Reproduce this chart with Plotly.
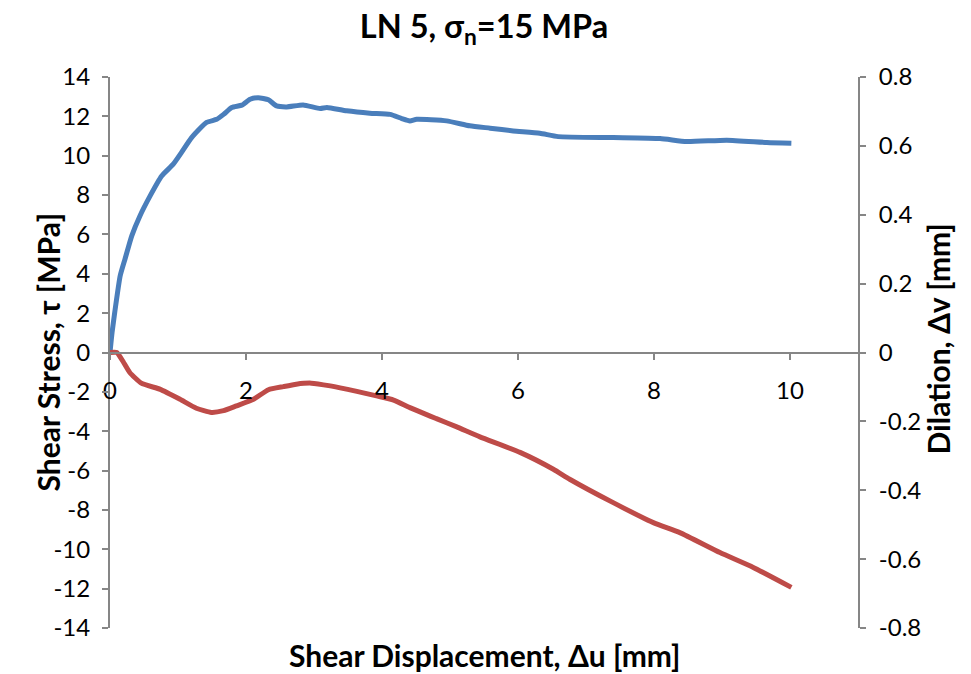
import plotly.graph_objects as go

# Shear stress curve (left axis)
disp_tau = [0.0, 0.03, 0.07, 0.15, 0.22, 0.32, 0.44, 0.59, 0.76, 0.93, 1.05, 1.2, 1.42, 1.57,
            1.67, 1.79, 1.94, 2.06, 2.18, 2.33, 2.45, 2.6, 2.84, 3.09, 3.19, 3.48, 3.82, 4.12,
            4.29, 4.41, 4.51, 4.95, 5.29, 5.59, 5.93, 6.32, 6.59, 7.4, 8.09, 8.48, 9.07, 9.66, 10.02]
tau = [0.0, 1.0, 2.05, 3.9, 4.74, 5.93, 6.94, 7.96, 8.97, 9.57, 10.16, 10.92, 11.69, 11.85,
       12.1, 12.45, 12.57, 12.87, 12.95, 12.84, 12.53, 12.48, 12.58, 12.4, 12.45, 12.28, 12.16, 12.1,
       11.89, 11.77, 11.85, 11.77, 11.52, 11.4, 11.26, 11.14, 10.97, 10.92, 10.87, 10.72, 10.79, 10.67, 10.63]

# Dilation curve (right axis)
disp_dv = [0.0, 0.1, 0.2, 0.29, 0.46, 0.74, 1.03, 1.27, 1.49, 1.67, 1.86, 2.11, 2.33, 2.55, 2.74,
           2.96, 3.24, 3.63, 3.92, 4.17, 4.41, 4.8, 5.1, 5.44, 6.03, 6.52, 6.76, 7.4, 7.99, 8.38,
           8.97, 9.46, 10.02]
dv = [0.0, 0.0, -0.029, -0.058, -0.089, -0.107, -0.136, -0.162, -0.174, -0.169, -0.155, -0.136,
      -0.108, -0.099, -0.092, -0.089, -0.097, -0.113, -0.126, -0.138, -0.16, -0.192, -0.216,
      -0.245, -0.29, -0.339, -0.368, -0.436, -0.494, -0.523, -0.581, -0.624, -0.682]

x_ticks = [0, 2, 4, 6, 8, 10]
left_ticks = list(range(-14, 15, 2))
left_labels = [str(v) for v in left_ticks]
right_ticks = [-0.8, -0.6, -0.4, -0.2, 0, 0.2, 0.4, 0.6, 0.8]
right_labels = ["-0.8", "-0.6", "-0.4", "-0.2", "0", "0.2", "0.4", "0.6", "0.8"]

FONT = "Lato"
AX = "#868686"

fig = go.Figure()
fig.add_trace(go.Scatter(x=disp_tau, y=tau, mode="lines", yaxis="y",
                         line=dict(color="#4A7EBB", width=5, shape="spline", smoothing=0.5),
                         showlegend=False))
fig.add_trace(go.Scatter(x=disp_dv, y=dv, mode="lines", yaxis="y2",
                         line=dict(color="#BE4B48", width=5, shape="spline", smoothing=0.5),
                         showlegend=False))

fig.update_layout(
    width=971, height=674,
    margin=dict(l=110, r=113, t=77, b=46),
    paper_bgcolor="white", plot_bgcolor="white",
    font=dict(family=FONT, size=22, color="black"),
    xaxis=dict(range=[0, 11], tickvals=x_ticks, showgrid=False, zeroline=False,
               showline=True, linecolor=AX, linewidth=2,
               ticks="outside", ticklen=6, tickwidth=2, tickcolor=AX,
               anchor="free", position=0.5, ticklabelstandoff=11,
               tickfont=dict(size=24)),
    yaxis=dict(range=[-14, 14], tickvals=left_ticks, ticktext=left_labels,
               showgrid=False, zeroline=False,
               showline=True, linecolor=AX, linewidth=2,
               ticks="outside", ticklen=6, tickwidth=2, tickcolor=AX,
               ticklabelstandoff=7, tickfont=dict(size=24)),
    yaxis2=dict(range=[-0.8, 0.8], tickvals=right_ticks, ticktext=right_labels,
                overlaying="y", side="right", showgrid=False, zeroline=False,
                showline=True, linecolor=AX, linewidth=2,
                ticks="outside", ticklen=6, tickwidth=2, tickcolor=AX,
                ticklabelstandoff=8, tickfont=dict(size=24)),
    title=dict(text="<b>LN 5, σ<sub>n</sub>=15 MPa</b>", x=0.5, xref="paper",
               y=1 - 27 / 674, yanchor="middle", font=dict(size=32.5)),
    annotations=[
        dict(text="<b>Shear Displacement, Δu [mm]</b>", xref="paper", yref="paper",
             x=0.5, y=0, yanchor="middle", yshift=-(655 - 628), showarrow=False,
             font=dict(size=30)),
        dict(text="<b>Shear Stress, τ [MPa]</b>", xref="paper", yref="paper",
             x=0, xshift=-(110 - 27), y=0.5, textangle=-90, showarrow=False,
             font=dict(size=30)),
        dict(text="<b>Dilation, Δv [mm]</b>", xref="paper", yref="paper",
             x=1, xshift=(957 - 858), y=0.5, yshift=(353 - 340), textangle=-90,
             showarrow=False, font=dict(size=30)),
    ],
)

fig.write_html("out.html")
